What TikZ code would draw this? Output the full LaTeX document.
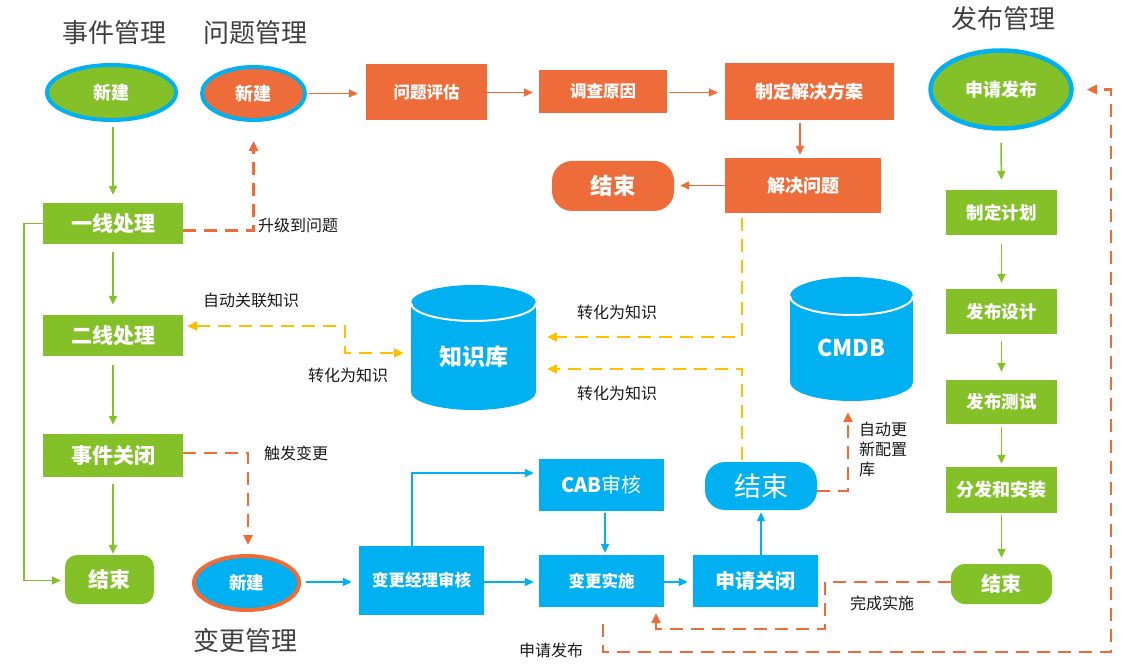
\documentclass[tikz,border=0pt]{standalone}
\usepackage{fontspec}
\setmainfont{Noto Sans CJK SC}
\usetikzlibrary{arrows.meta,shapes.geometric,positioning}
\definecolor{G}{HTML}{84C129}
\definecolor{O}{HTML}{EE6C3A}
\definecolor{B}{HTML}{00B0F0}
\definecolor{Y}{HTML}{FFC000}
\definecolor{T}{HTML}{404040}
\newcommand{\fs}[1]{\fontsize{#1}{#1}\selectfont}
\tikzset{
  box/.style={rectangle, inner sep=0pt, text=white, font=\bfseries\fs{18}},
  gbox/.style={box, fill=G},
  obox/.style={box, fill=O},
  bbox/.style={box, fill=B},
  ell/.style={ellipse, inner sep=0pt, text=white, font=\bfseries\fs{18}, line width=4pt},
  title/.style={text=T, font=\fs{26}},
  lbl/.style={text=black!90, font=\fs{16}, anchor=west, inner sep=0pt},
  tip/.style={-{Triangle[length=9pt,width=8pt]}},
  garrow/.style={draw=G, line width=1.6pt, tip},
  oarrow/.style={draw=O, line width=1.6pt, tip},
  barrow/.style={draw=B, line width=1.6pt, tip},
  odash/.style={draw=O, line width=2.6pt, dash pattern=on 13pt off 8pt, -{Triangle[length=10pt,width=9pt]}},
  ydash/.style={draw=Y, line width=2.6pt, dash pattern=on 13pt off 8pt, -{Triangle[length=10pt,width=9pt]}},
}
\begin{document}
\begin{tikzpicture}[x=1pt,y=-1pt]
\useasboundingbox (0,0) rectangle (1133,668);
\fill[white] (0,0) rectangle (1133,668);

% titles
\node[title] (t1) at (114,33) {事件管理};
\node[title] (t2) at (255,33) {问题管理};
\node[title] (t3) at (1003,19) {发布管理};
\node[title] (t4) at (245,641) {变更管理};

% incident
\node[ell, fill=G, draw=B, minimum width=129pt, minimum height=55pt] (inew) at (111.5,92.5) {新建};
\node[gbox, minimum width=140pt, minimum height=41pt, font=\bfseries\fs{21}] (i1) at (113,223.5) {一线处理};
\node[gbox, minimum width=140pt, minimum height=41pt, font=\bfseries\fs{21}] (i2) at (113,335.5) {二线处理};
\node[gbox, minimum width=140pt, minimum height=43pt, font=\bfseries\fs{21}] (i3) at (113,455.5) {事件关闭};
\node[gbox, rounded corners=12pt, minimum width=89pt, minimum height=49pt, font=\bfseries\fs{21}] (iend) at (109.5,579.5) {结束};

% problem
\node[ell, fill=O, draw=B, minimum width=103pt, minimum height=53pt] (pnew) at (253.5,93.5) {新建};
\node[obox, minimum width=121pt, minimum height=56pt, font=\bfseries\fs{16.5}] (p1) at (426.5,92.5) {问题评估};
\node[obox, minimum width=128pt, minimum height=43pt, font=\bfseries\fs{16.5}] (p2) at (603,91.5) {调查原因};
\node[obox, minimum width=169pt, minimum height=57pt] (p3) at (809.5,91.5) {制定解决方案};
\node[obox, minimum width=156pt, minimum height=55pt] (p4) at (803,185.5) {解决问题};
\node[obox, rounded corners=20pt, minimum width=122pt, minimum height=50pt, font=\bfseries\fs{22.5}] (pend) at (613,186) {结束};

% release
\node[ell, fill=G, draw=B, line width=4.5pt, minimum width=141pt, minimum height=78pt] (rnew) at (1001,89.5) {申请发布};
\node[gbox, minimum width=111pt, minimum height=45pt, font=\bfseries\fs{17.5}] (r1) at (1001.5,212.5) {制定计划};
\node[gbox, minimum width=111pt, minimum height=45pt, font=\bfseries\fs{17.5}] (r2) at (1001.5,311.5) {发布设计};
\node[gbox, minimum width=111pt, minimum height=44pt, font=\bfseries\fs{17.5}] (r3) at (1001.5,402) {发布测试};
\node[gbox, minimum width=111pt, minimum height=46pt] (r4) at (1001.5,490) {分发和安装};
\node[gbox, rounded corners=14pt, minimum width=101pt, minimum height=40pt, font=\bfseries\fs{20}] (rend) at (1001.5,584) {结束};

% change
\node[ell, fill=B, draw=O, minimum width=105pt, minimum height=54pt, font=\bfseries\fs{17.5}] (cnew) at (246.5,583) {新建};
\node[bbox, minimum width=125pt, minimum height=69pt, font=\bfseries\fs{16.5}] (c1) at (421.5,580.5) {变更经理审核};
\node[bbox, minimum width=125pt, minimum height=52pt, font=\fs{20}] (cab) at (601.5,485) {\textbf{CAB}审核};
\node[bbox, minimum width=125pt, minimum height=52pt, font=\bfseries\fs{16.5}] (c2) at (601.5,581) {变更实施};
\node[bbox, minimum width=125pt, minimum height=52pt, font=\bfseries\fs{20}] (c3) at (755.5,581) {申请关闭};
\node[bbox, rounded corners=20pt, minimum width=112pt, minimum height=48pt, font=\fs{27}] (cend) at (761,486) {结束};

% knowledge base cylinder
\node[minimum width=125pt, minimum height=125pt, inner sep=0pt] (kb) at (473.5,347.5) {};
\fill[B] (411,303) rectangle (536,392);
\fill[B] (473.5,303) ellipse [x radius=62.5, y radius=18];
\fill[B] (473.5,392) ellipse [x radius=62.5, y radius=18];
\draw[white, line width=2pt] (411,303) arc[start angle=180, end angle=0, x radius=62.5, y radius=18];
\node[text=white, font=\bfseries\fs{23}] (kbt) at (473.5,357) {知识库};

% CMDB cylinder
\node[minimum width=123pt, minimum height=124pt, inner sep=0pt] (cmdb) at (851.5,339) {};
\fill[B] (790,296) rectangle (913,382);
\fill[B] (851.5,296) ellipse [x radius=61.5, y radius=19];
\fill[B] (851.5,382) ellipse [x radius=61.5, y radius=19];
\draw[white, line width=2pt] (790,296) arc[start angle=180, end angle=0, x radius=61.5, y radius=19];
\node[text=white, font=\bfseries\fs{23}] (cmdbt) at (851.5,348) {CMDB};

% incident connectors
\draw[garrow, shorten <=5pt, shorten >=8pt] (inew.south -| i1.north) -- (i1.north);
\draw[garrow, shorten <=8pt, shorten >=10pt] (i1.south) -- (i2.north);
\draw[garrow, shorten <=9pt, shorten >=9pt] (i2.south) -- (i3.north);
\draw[garrow, shorten <=7pt, shorten >=1pt] (i3.south) -- (i3.south |- iend.north);
\draw[garrow, shorten >=4pt] (i1.west) -- ++(-19,0) |- ([yshift=-1pt]iend.west);

% escalation
\draw[odash, shorten >=19pt] ([yshift=-7pt]i1.east) -| (pnew.south);
\node[lbl] (l1) at (258,225) {升级到问题};

% problem connectors
\draw[oarrow, shorten <=2pt, shorten >=8pt] (pnew.east) -- (pnew.east -| p1.west);
\draw[oarrow, shorten >=6pt] (p1.east) -- (p1.east -| p2.west);
\draw[oarrow, shorten <=2pt, shorten >=7pt] ([yshift=-1pt]p2.east) -- ([yshift=-1pt]p2.east -| p3.west);
\draw[oarrow, shorten <=3pt, shorten >=3pt] ([xshift=-9.5pt]p3.south) -- ([xshift=-9.5pt]p3.south |- p4.north);
\draw[oarrow, shorten >=6pt] (p4.west) -- (p4.west -| pend.east);

% knowledge connectors
\draw[ydash, shorten <=5pt, shorten >=11pt] ([xshift=-61pt]p4.south) |- ([yshift=10.5pt]kb.east);
\draw[ydash, shorten <=2pt, shorten >=11pt] ([xshift=-19pt]cend.north) |- ([yshift=-21.5pt]kb.east);
\draw[ydash, {Triangle[length=10pt,width=9pt]}-{Triangle[length=10pt,width=9pt]}, shorten <=4pt, shorten >=7pt] ([yshift=9.5pt]i2.east) -- (345,326) -- (345,353) -- ([yshift=-5.5pt]kb.west);
\node[lbl] (l2) at (203,300) {自动关联知识};
\node[lbl] (l3) at (308,375) {转化为知识};
\node[lbl] (l4) at (577,312) {转化为知识};
\node[lbl] (l5) at (577,393) {转化为知识};

% trigger change
\draw[odash, shorten >=9pt] ([yshift=2.5pt]i3.east) -| ([xshift=1.5pt]cnew.north);
\node[lbl] (l6) at (264,453) {触发变更};

% change connectors
\draw[barrow, shorten <=5pt, shorten >=7pt] ([yshift=1pt]cnew.east) -- ([yshift=1pt]cnew.east -| c1.west);
\draw[barrow, shorten >=5pt] ([xshift=-9.5pt]c1.north) |- ([yshift=12pt]cab.west);
\draw[barrow, shorten >=5pt] ([yshift=-1.5pt]c1.east) -- ([yshift=-1.5pt]c1.east -| c2.west);
\draw[barrow, shorten <=2pt, shorten >=2pt] ([xshift=3.5pt]cab.south) -- ([xshift=3.5pt]cab.south |- c2.north);
\draw[barrow, shorten >=5pt] ([yshift=-1pt]c2.east) -- ([yshift=-1pt]c2.east -| c3.west);
\draw[barrow, shorten >=2pt] (c3.north -| cend.south) -- (cend.south);

% CMDB update
\draw[odash, shorten >=11pt] ([yshift=-5pt]cend.east) -| ([xshift=-3.5pt]cmdb.south);
\node[lbl, anchor=north west, align=left, font=\fs{16}, text depth=0pt] (l7) at (859,422) {自动更\\[4pt]新配置\\[4pt]库};

% release connectors
\draw[garrow, shorten <=12pt, shorten >=10pt] (rnew.south) -- (r1.north);
\draw[garrow, shorten <=9pt, shorten >=6pt] (r1.south) -- (r2.north);
\draw[garrow, shorten <=7pt, shorten >=8pt] (r2.south) -- (r3.north);
\draw[garrow, shorten <=3pt, shorten >=3pt] (r3.south) -- (r4.north);
\draw[garrow, shorten <=2pt, shorten >=6pt] (r4.south) -- (rend.north);

% completion back to change
\draw[odash, shorten >=6pt] ([yshift=2pt]rend.west) -| (825,629) -| ([xshift=54.5pt]c2.south);
\node[lbl] (l8) at (850,603) {完成实施};

% request release
\draw[odash, shorten <=17pt, shorten >=13pt] ([xshift=1.5pt]c2.south) |- (1111,652) |- (rnew.east);
\node[lbl] (l9) at (519,650) {申请发布};
\end{tikzpicture}
\end{document}
